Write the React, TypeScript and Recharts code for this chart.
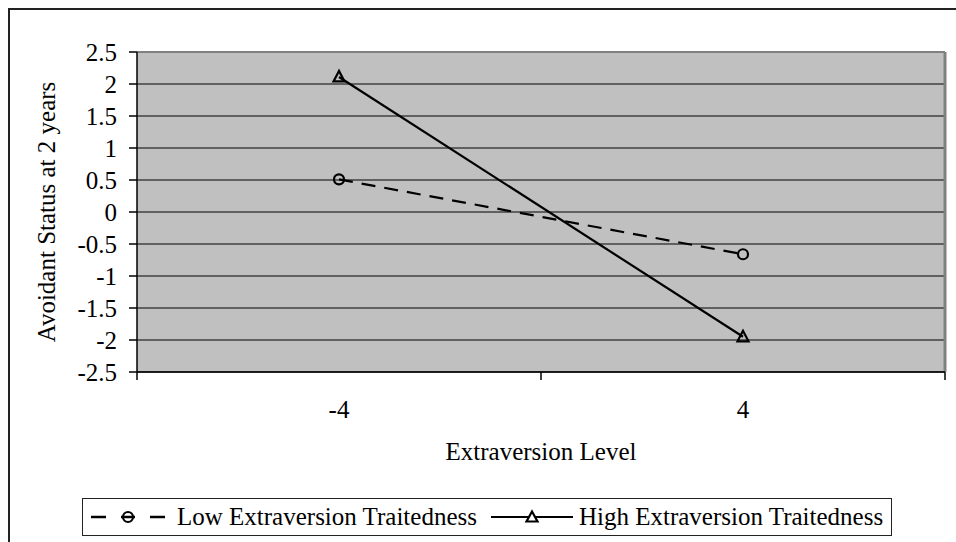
import React from 'react';
import {
  LineChart,
  Line,
  XAxis,
  YAxis,
  CartesianGrid,
  ReferenceLine,
  Legend,
} from 'recharts';

// extraversion level categories and the two traitedness series
const levels = [-4, 4];
const lowTraitedness = [0.51, -0.66];
const highTraitedness = [2.11, -1.95];

const yTicks = [2.5, 2, 1.5, 1, 0.5, 0, -0.5, -1, -1.5, -2, -2.5];
// category boundaries get tick marks, category centres get labels
const xTicks = [-8, -4, 0, 4, 8];
const xLabels = [-4, 4];

const FONT = "'Liberation Serif', 'Times New Roman', serif";
const FONT_SIZE = 25;

const data = levels.map((level, i) => ({
  level,
  low: lowTraitedness[i],
  high: highTraitedness[i],
}));

const XTick = (props: any) => {
  const { x, y, payload } = props;
  if (xLabels.includes(payload.value)) {
    return (
      <text x={x} y={y + 46} textAnchor="middle" fill="#000" fontFamily={FONT} fontSize={FONT_SIZE}>
        {payload.value}
      </text>
    );
  }
  return <line x1={x} y1={y} x2={x} y2={y + 8} stroke="#000" strokeWidth={1.5} />;
};

const CircleDot = (props: any) => {
  const { cx, cy } = props;
  if (cx == null || cy == null) return null;
  return <circle cx={cx} cy={cy} r={5} fill="none" stroke="#000" strokeWidth={2.2} />;
};

const TriangleDot = (props: any) => {
  const { cx, cy } = props;
  if (cx == null || cy == null) return null;
  return (
    <polygon
      points={`${cx},${cy - 6} ${cx - 5.5},${cy + 4.5} ${cx + 5.5},${cy + 4.5}`}
      fill="none"
      stroke="#000"
      strokeWidth={2.2}
    />
  );
};

const LegendBox = () => (
  <div
    style={{
      boxSizing: 'border-box',
      width: 810,
      height: 38,
      border: '1px solid #222',
      display: 'flex',
      alignItems: 'center',
      paddingLeft: 7,
      fontFamily: FONT,
      fontSize: FONT_SIZE,
      color: '#000',
      whiteSpace: 'nowrap',
    }}
  >
    <svg width={76} height={20} style={{ marginRight: 11, flexShrink: 0 }}>
      <line x1={1} y1={10} x2={16} y2={10} stroke="#000" strokeWidth={2.5} />
      <line x1={31} y1={10} x2={45} y2={10} stroke="#000" strokeWidth={2.5} />
      <circle cx={38} cy={10} r={5} fill="none" stroke="#000" strokeWidth={2.2} />
      <line x1={60} y1={10} x2={75} y2={10} stroke="#000" strokeWidth={2.5} />
    </svg>
    <span>Low Extraversion Traitedness</span>
    <svg width={82} height={20} style={{ marginLeft: 14, marginRight: 6, flexShrink: 0 }}>
      <line x1={0} y1={10} x2={82} y2={10} stroke="#000" strokeWidth={2} />
      <polygon points="41,4.5 35.5,14.5 46.5,14.5" fill="#fff" stroke="#000" strokeWidth={2.2} />
    </svg>
    <span>High Extraversion Traitedness</span>
  </div>
);

const YTitle = (props: any) => {
  const { viewBox } = props;
  const cy = viewBox.y + viewBox.height / 2;
  return (
    <text
      x={46}
      y={cy}
      transform={`rotate(-90, 46, ${cy})`}
      textAnchor="middle"
      dominantBaseline="central"
      fill="#000"
      fontFamily={FONT}
      fontSize={FONT_SIZE}
    >
      Avoidant Status at 2 years
    </text>
  );
};

export default function App() {
  return (
    <div style={{ position: 'absolute', left: 0, top: 0, width: 956, height: 542, background: '#fff', overflow: 'hidden' }}>
      <div
        style={{
          position: 'absolute',
          left: 8,
          top: 8,
          width: 980,
          height: 560,
          border: '2px solid #222',
        }}
      />
      <LineChart
        width={956}
        height={542}
        data={data}
        margin={{ top: 52, right: 11, bottom: 0, left: 0 }}
        style={{ position: 'absolute', left: 0, top: 0 }}
      >
        <CartesianGrid vertical={false} fill="#C0C0C0" stroke="#000" strokeOpacity={1} />
        <XAxis
          dataKey="level"
          type="number"
          domain={[-8, 8]}
          ticks={xTicks}
          tick={<XTick />}
          tickLine={false}
          tickSize={0}
          tickMargin={0}
          height={170}
          axisLine={{ stroke: '#000', strokeWidth: 1.5 }}
          label={{
            value: 'Extraversion Level',
            position: 'insideTop',
            offset: 70,
            fill: '#000',
            fontFamily: FONT,
            fontSize: FONT_SIZE,
          }}
        />
        <YAxis
          type="number"
          domain={[-2.5, 2.5]}
          ticks={yTicks}
          width={137}
          tickSize={8}
          tickMargin={12}
          interval={0}
          axisLine={{ stroke: '#000', strokeWidth: 1.5 }}
          tickLine={{ stroke: '#000', strokeWidth: 1.5 }}
          tick={{ fill: '#000', fontFamily: FONT, fontSize: FONT_SIZE }}
          label={<YTitle />}
        />
        <ReferenceLine y={2.5} stroke="#808080" strokeWidth={2} />
        <ReferenceLine x={8} stroke="#808080" strokeWidth={3} />
        <Line
          dataKey="low"
          stroke="#000"
          strokeWidth={2.2}
          strokeDasharray="14 9"
          dot={<CircleDot />}
          activeDot={false}
          isAnimationActive={false}
        />
        <Line
          dataKey="high"
          stroke="#000"
          strokeWidth={2.2}
          dot={<TriangleDot />}
          activeDot={false}
          isAnimationActive={false}
        />
        <Legend
          verticalAlign="middle"
          align="center"
          layout="horizontal"
          content={<LegendBox />}
          wrapperStyle={{ position: 'absolute', left: 82, top: 498, width: 810, height: 38 }}
        />
      </LineChart>
    </div>
  );
}
